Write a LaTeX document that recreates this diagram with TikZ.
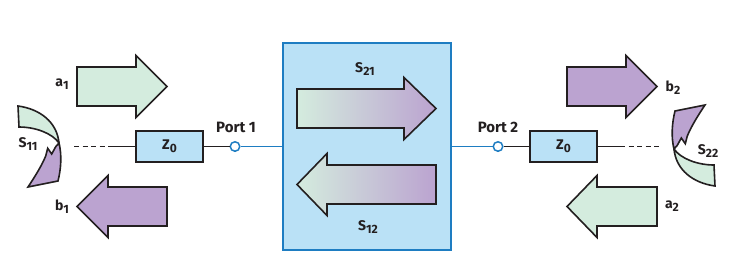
\documentclass[tikz,border=0pt]{standalone}
\usepackage{fontspec}
\setmainfont{Fira Sans}
\definecolor{lgreen}{RGB}{212,236,222}
\definecolor{lpurple}{RGB}{187,163,208}
\definecolor{lblue}{RGB}{186,225,246}
\definecolor{dblue}{RGB}{30,125,194}
\definecolor{ink}{RGB}{35,31,32}
\newcommand\sbs[1]{\raisebox{-0.4ex}{\fontsize{12}{12}\selectfont #1}}
\newcommand\rarr[4]{(#1,#4-19.5) -- (#2,#4-19.5) -- (#2,#4-31) -- (#3,#4) -- (#2,#4+31) -- (#2,#4+19.5) -- (#1,#4+19.5) -- cycle}
\tikzset{
 outl/.style={draw=ink, line width=1.6pt, line join=miter},
 lbl/.style={font=\fontsize{15}{15}\selectfont\bfseries, text=ink, inner sep=0pt},
 slbl/.style={font=\fontsize{14}{14}\selectfont\bfseries, text=ink, inner sep=0pt},
 zbox/.style={draw=ink, fill=lblue, line width=1.5pt, minimum width=67pt, minimum height=31pt, inner sep=0pt},
 mainbox/.style={draw=dblue, fill=lblue, line width=2pt, minimum width=168pt, minimum height=207pt, inner sep=0pt},
 port/.style={circle, draw=dblue, fill=white, line width=1.5pt, minimum size=9.5pt, inner sep=0pt},
 wire/.style={draw=ink, line width=1.4pt},
 bwire/.style={draw=dblue, line width=1.6pt},
 dwire/.style={wire, dash pattern=on 5pt off 3.5pt},
 grad/.style={outl, left color=lgreen, right color=lpurple},
}
\begin{document}
\begin{tikzpicture}[x=1pt,y=-1pt]
\useasboundingbox (0,0) rectangle (737,263);
% central box
\node[mainbox] (box) at (367,146.5) {};
% Z0 boxes and ports
\node[zbox] (zl) at (169.5,146.5) {};
\node[zbox] (zr) at (563.5,146.5) {};
\node[slbl] at (zl) {Z\sbs{0}};
\node[slbl] at (zr) {Z\sbs{0}};
\coordinate (dl0) at (74,146.5);
\coordinate (dl1) at (110,146.5);
\coordinate (dr1) at (620,146.5);
\coordinate (dr0) at (659,146.5);
\node[port] (p1) at (235,146.5) {};
\node[port] (p2) at (498,146.5) {};
\draw[dwire] (dl0) -- (dl1);
\draw[wire] (dl1) -- (zl.west);
\draw[wire] (zl.east) -- (p1);
\draw[bwire] (p1) -- (box.west);
\draw[bwire] (box.east) -- (p2);
\draw[wire] (p2) -- (zr.west);
\draw[wire] (zr.east) -- (dr1);
\draw[dwire] (dr1) -- (dr0);
\node[lbl] (port1) at (236,127) {Port 1};
\node[lbl] (port2) at (498,127) {Port 2};
% straight arrows
\path[outl, fill=lgreen] \rarr{77}{136}{167}{86.5};
\path[outl, fill=lpurple] \rarr{167}{108}{77}{206.5};
\path[outl, fill=lpurple] \rarr{567}{626}{657}{86.5};
\path[outl, fill=lgreen] \rarr{657}{597}{567}{206.5};
\path[grad] \rarr{297}{404}{436}{108.5};
\path[grad] \rarr{436}{327}{297}{184.5};
\node[slbl] (a1) at (62,84) {a\sbs{1}};
\node[slbl] (b1) at (62,207) {b\sbs{1}};
\node[slbl] (b2) at (673,88) {b\sbs{2}};
\node[slbl] (a2) at (672,206) {a\sbs{2}};
\node[slbl] (s21) at (365,69) {S\sbs{21}};
\node[slbl] (s12) at (368,227) {S\sbs{12}};
% curved reflection arrows
\begin{scope}[shift={(40,147)}]
\path[outl, fill=lgreen] (-22,-41) .. controls (0,-38) and (17,-25) .. (19,-4) .. controls (12,-14) and (-5,-20) .. (-21,-20) -- cycle;
\path[outl, fill=lpurple] (19,-4) .. controls (22,8) and (21,22) .. (18,34) -- (-12,40) .. controls (-4,28) and (2,18) .. (5.7,9) -- (7.7,1.3) -- (11.7,7) -- (15.7,-0.3) -- cycle;
\end{scope}
\begin{scope}[shift={(693,145)}, rotate=180]
\path[outl, fill=lgreen] (-22,-41) .. controls (0,-38) and (17,-25) .. (19,-4) .. controls (12,-14) and (-5,-20) .. (-21,-20) -- cycle;
\path[outl, fill=lpurple] (19,-4) .. controls (22,8) and (21,22) .. (18,34) -- (-12,40) .. controls (-4,28) and (2,18) .. (5.7,9) -- (7.7,1.3) -- (11.7,7) -- (15.7,-0.3) -- cycle;
\end{scope}
\node[slbl] (s11) at (28,144) {S\sbs{11}};
\node[slbl] (s22) at (708,151) {S\sbs{22}};
\end{tikzpicture}
\end{document}
